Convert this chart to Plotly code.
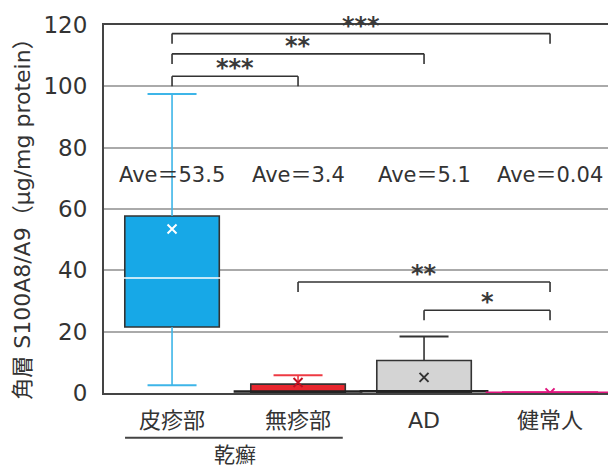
import plotly.graph_objects as go

# Groups and summary statistics (µg/mg protein)
categories = ["皮疹部", "無疹部", "AD", "健常人"]
q1 = [21.5, 0.15, 0.15, 0.05]
median = [37.5, 0.5, 0.6, 0.1]
q3 = [57.7, 2.9, 10.6, 0.35]
lower = [2.5, 0.15, 0.15, 0.05]
upper = [97.5, 5.8, 18.4, 0.35]
mean = [53.5, 3.4, 5.1, 0.04]
ave_labels = ["Ave＝53.5", "Ave＝3.4", "Ave＝5.1", "Ave＝0.04"]

# Significance brackets: (group a, group b, bracket height, label)
bracket_a = [0, 0, 0, 1, 2]
bracket_b = [3, 2, 1, 3, 3]
bracket_y = [117.2, 110.6, 103.3, 36.2, 27.0]
bracket_text = ["***", "**", "***", "**", "*"]

y_ticks = [0, 20, 40, 60, 80, 100, 120]

# Styling
fill_colors = ["#17a8e7", "#e8262e", "#d4d4d4", "#e0147e"]
edge_colors = ["#333333", "#333333", "#333333", "#e0147e"]
whisker_colors = ["#3db5e8", "#ee3a43", "#333333", "#e0147e"]
median_colors = ["#ffffff", "#222222", "#222222", "#e0147e"]
mean_colors = ["#ffffff", "#c01020", "#333333", "#e0147e"]
TXT = "#333333"
FONT = "DejaVu Sans, Noto Sans CJK JP, sans-serif"
BOX_W = 0.75
LEG = 3.3

x = list(range(len(categories)))
fig = go.Figure()

# Whisker stems and caps
for i in x:
    fig.add_trace(go.Scatter(
        x=[i, i, None, i, i], y=[lower[i], q1[i], None, q3[i], upper[i]],
        mode="lines", line=dict(color=whisker_colors[i], width=1.6),
        hoverinfo="skip", showlegend=False))
    caps_y = [upper[i]] if i != 0 else [lower[i], upper[i]]
    if i == 3:
        caps_y = []
    if caps_y:
        fig.add_trace(go.Scatter(
            x=[i] * len(caps_y), y=caps_y, mode="markers",
            marker=dict(symbol="line-ew", size=35,
                        line=dict(color=whisker_colors[i], width=2)),
            hoverinfo="skip", showlegend=False))

# Boxes (interquartile range)
fig.add_trace(go.Bar(
    x=x, base=q1, y=[b - a for a, b in zip(q1, q3)], width=BOX_W,
    marker=dict(color=fill_colors, line=dict(color=edge_colors, width=1.6)),
    hoverinfo="skip", showlegend=False))

# Medians
for i in x:
    fig.add_trace(go.Scatter(
        x=[i], y=[median[i]], mode="markers",
        marker=dict(symbol="line-ew", size=92,
                    line=dict(color=median_colors[i], width=2.5 if i != 0 else 1.5)),
        hoverinfo="skip", showlegend=False))

# Means
for i in x:
    fig.add_trace(go.Scatter(
        x=[i], y=[mean[i]], mode="markers",
        marker=dict(symbol="x-thin", size=9,
                    line=dict(color=mean_colors[i], width=2)),
        hoverinfo="skip", showlegend=False))

annotations = []
shapes = []

# Average labels
for i in x:
    annotations.append(dict(x=i, y=71, xref="x", yref="y", text=ave_labels[i],
                            showarrow=False, xanchor="center", yanchor="middle",
                            font=dict(size=21, color=TXT, family=FONT)))

# Brackets
for a, b, yb, t in zip(bracket_a, bracket_b, bracket_y, bracket_text):
    for (x0, y0, x1, y1) in [(a, yb - LEG, a, yb), (a, yb, b, yb), (b, yb, b, yb - LEG)]:
        shapes.append(dict(type="line", xref="x", yref="y", x0=x0, y0=y0, x1=x1, y1=y1,
                           line=dict(color="#333333", width=1.6)))
    annotations.append(dict(x=(a + b) / 2, y=yb, xref="x", yref="y",
                            text="<b>" + t + "</b>",
                            showarrow=False, xanchor="center", yanchor="middle",
                            yshift=8, font=dict(size=24, color="#3a3a3a",
                                                family="DejaVu Sans")))

# Group underline and label for psoriasis
shapes.append(dict(type="line", xref="x", yref="paper", x0=-0.373, x1=1.355,
                   y0=-0.1215, y1=-0.1215, line=dict(color="#444444", width=2)))
annotations.append(dict(x=0.5, y=-0.168, xref="x", yref="paper", text="乾癬",
                        showarrow=False, xanchor="center", yanchor="middle",
                        font=dict(size=21, color=TXT, family=FONT)))

# Y-axis title
annotations.append(dict(x=-0.1607, y=0.487, xref="paper", yref="paper",
                        text="角層 S100A8/A9（μg/mg protein）", textangle=-90,
                        showarrow=False, xanchor="center", yanchor="middle",
                        font=dict(size=22, color=TXT, family=FONT)))

fig.update_layout(
    width=608, height=467,
    margin=dict(l=104, r=0, t=25, b=74),
    paper_bgcolor="white", plot_bgcolor="white",
    font=dict(family=FONT, color=TXT),
    showlegend=False,
    annotations=annotations, shapes=shapes,
    xaxis=dict(range=[-0.54, 3.46], tickmode="array", tickvals=x, ticktext=categories,
               showgrid=False, zeroline=False, showline=True, mirror=True,
               linecolor="#444444", linewidth=2, ticks="", ticklabelstandoff=7,
               tickfont=dict(size=22, color=TXT, family=FONT)),
    yaxis=dict(range=[0, 120], tickmode="array", tickvals=y_ticks,
               showgrid=True, gridcolor="#aaaaaa", gridwidth=1.5, zeroline=False,
               showline=True, linecolor="#444444", linewidth=2, ticks="",
               ticklabelstandoff=10, tickfont=dict(size=23, color=TXT, family=FONT)),
)

fig.write_html("out.html")
